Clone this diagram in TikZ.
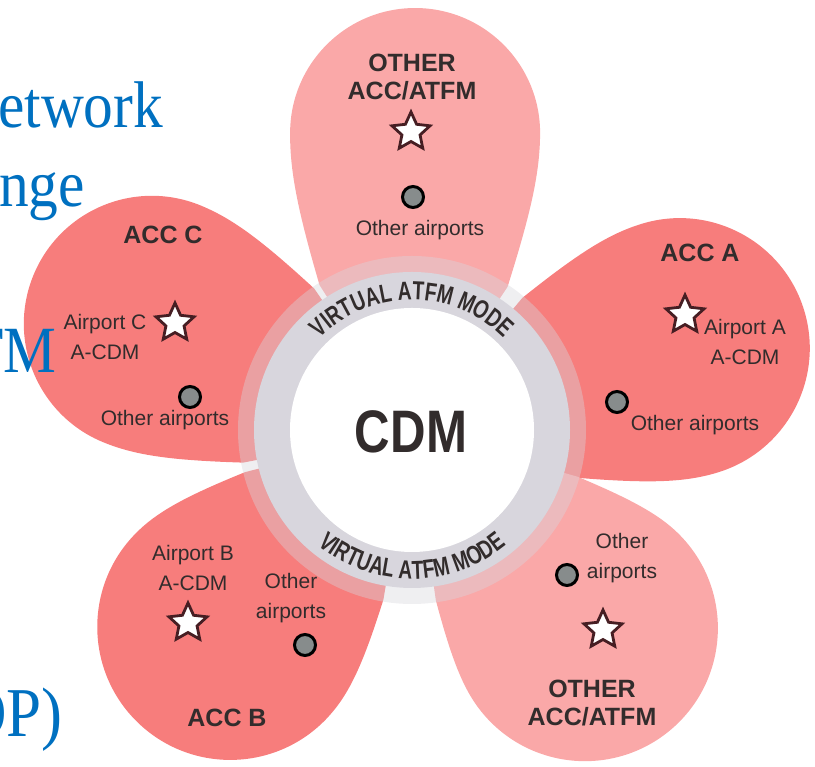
\documentclass[tikz,border=0pt]{standalone}
\usepackage{fontspec}
\setmainfont{Liberation Sans}
\newfontfamily\slidefont{Liberation Serif}
\newfontfamily\narrowfont[FakeStretch=0.82]{Liberation Sans}
\newfontfamily\ringfamily[FakeStretch=0.74]{Liberation Sans}
\usepackage{graphicx}
\usetikzlibrary{shapes.geometric, decorations.text}
\definecolor{petaldark}{RGB}{247,125,124}
\definecolor{petallight}{RGB}{250,168,168}
\definecolor{ringgray}{RGB}{216,214,221}
\definecolor{ink}{RGB}{50,44,44}
\definecolor{slideblue}{RGB}{0,112,192}
\definecolor{stardark}{RGB}{70,30,35}
\definecolor{dotgray}{RGB}{135,140,140}
\newcommand{\ringfont}{\ringfamily\bfseries\fontsize{26}{26}\selectfont}
% petal: angle, distance, radius, colour
\newcommand{\petal}[4]{%
  \fill[#4, shift={(ctr)}, rotate=#1]
    (0,0) -- (144,94) .. controls ({(144+#2)/2},{94+0.75*(#3-94)}) and ({#2-0.25*(#2-144)},#3) .. (#2,#3)
    arc[start angle=90, end angle=-90, radius=#3]
    .. controls ({#2-0.25*(#2-144)},-#3) and ({(144+#2)/2},{-94-0.75*(#3-94)}) .. (144,-94) -- cycle;}

\begin{document}
\begin{tikzpicture}[x=1pt, y=1pt,
  lbl/.style={text=ink, align=center, inner sep=0, font=\fontsize{21}{30}\selectfont},
  acc/.style={text=ink, align=center, inner sep=0, font=\bfseries\fontsize{25}{28}\selectfont},
  airstar/.style={star, star points=5, star point ratio=2.1, minimum size=40, inner sep=0,
    fill=white, draw=stardark, line width=2.8pt},
  airdot/.style={circle, minimum size=21, inner sep=0, fill=dotgray, draw=black, line width=3pt},
  slide/.style={text=slideblue, anchor=base west, inner sep=0, font=\slidefont\fontsize{66}{66}\selectfont}]
\useasboundingbox (0,0) rectangle (815,767);
\coordinate (ctr) at (412,337);
%
\petal{89.4}{297}{125}{petallight}
\petal{17}{280}{130}{petaldark}
\petal{157.8}{281}{128}{petaldark}
\petal{227.3}{268}{133}{petaldark}
\petal{-48.9}{263}{133}{petallight}
%
\fill[ringgray, opacity=.4] (ctr) circle (174);
\fill[ringgray] (ctr) circle (158);
\fill[white] (ctr) circle (122);
\path[decorate, decoration={text along path, text align=center, text color=ink,
    text={|\ringfont|VIRTUAL ATFM MODE}}]
  ([shift={(137:130)}]ctr) arc[start angle=137, end angle=43, radius=130];
\path[decorate, decoration={text along path, text align=center, text color=ink,
    text={|\ringfont|VIRTUAL ATFM MODE}}]
  ([shift={(223:149)}]ctr) arc[start angle=223, end angle=317, radius=149];
\node[text=ink, inner sep=0, font=\narrowfont\bfseries\fontsize{60}{60}\selectfont] (cdm) at (411,335) {CDM};
%
\node[acc] (othTop) at (412,690) {OTHER\\ACC/ATFM};
\node[airstar] (starTop) at (411,635) {};
\node[airdot] (dotTop) at (413,570) {};
\node[lbl] (airTop) at (420,537) {Other airports};
%
\node[acc] (accA) at (700,514) {ACC A};
\node[airstar] (starA) at (685,452) {};
\node[lbl] (cdmA) at (745,425) {Airport A\\A-CDM};
\node[airdot] (dotA) at (617,365) {};
\node[lbl] (airA) at (695,342) {Other airports};
%
\node[acc] (accC) at (163,532) {ACC C};
\node[lbl] (cdmC) at (105,430) {Airport C\\A-CDM};
\node[airstar] (starC) at (175,444) {};
\node[airdot] (dotC) at (190,370) {};
\node[lbl] (airC) at (165,347) {Other airports};
%
\node[lbl] (cdmB) at (193,199) {Airport B\\A-CDM};
\node[airstar] (starB) at (188,144) {};
\node[lbl] (airB) at (291,169) {Other\\airports};
\node[airdot] (dotB) at (305,122) {};
\node[acc] (accB) at (227,49) {ACC B};
%
\node[lbl] (airLow) at (622,209) {Other\\airports};
\node[airdot] (dotLow) at (567,192) {};
\node[airstar] (starLow) at (603,137) {};
\node[acc] (othLow) at (592,64) {OTHER\\ACC/ATFM};
%
\node[slide] (slA) at (-2,639) {\scalebox{0.9}[1]{etwork}};
\node[slide] (slB) at (-1,560) {\scalebox{0.9}[1]{nge}};
\node[slide] (slC) at (-33,394) {\scalebox{0.9}[1]{TM}};
\node[slide, font=\slidefont\fontsize{70}{70}\selectfont] (slD) at (-39,30) {\scalebox{0.9}[1]{OP)}};
\end{tikzpicture}
\end{document}
